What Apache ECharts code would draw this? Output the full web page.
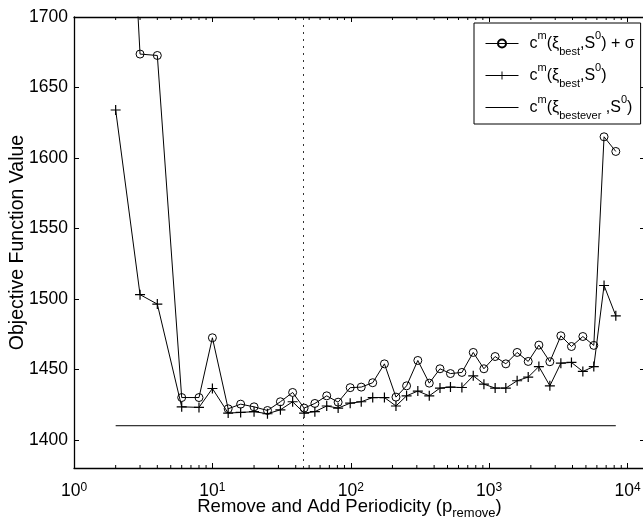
<!DOCTYPE html>
<html>
<head>
<meta charset="utf-8">
<script src="https://cdn.jsdelivr.net/npm/echarts@6/dist/echarts.min.js"></script>
<style>
  html, body { margin: 0; padding: 0; background: #fff; }
  #chart { width: 643px; height: 523px; }
</style>
</head>
<body>
<div id="chart"></div>
<script>
// periodicity values (x)
var periods = [2, 3, 4, 6, 8, 10, 13, 16, 20, 25, 31, 38, 46, 55, 67, 81, 99, 119, 144,
  175, 212, 253, 305, 369, 441, 525, 635, 767, 916, 1104, 1319, 1592,
  1914, 2286, 2744, 3295, 3930, 4750, 5700, 6760, 8220];
// c^m(xi_best, S^0) + sigma  (first point is off the top of the chart)
var bestPlusSigma = [2000, 1673.7, 1672.7, 1430, 1430, 1472.4, 1422, 1425.3, 1423.4, 1420.8, 1427, 1433.6, 1422.5,
  1425.8, 1431.2, 1426.7, 1437, 1437.4, 1440.5,
  1453.9, 1430.3, 1438.3, 1456.3, 1440.2, 1450.4, 1447, 1447.8, 1462, 1450.4, 1459.1, 1453.9, 1462,
  1455.6, 1467.2, 1455.4, 1473.8, 1466.2, 1473.3, 1467, 1615, 1604.6];
// c^m(xi_best, S^0)
var best = [1634, 1503, 1496.3, 1423.4, 1423, 1436.4, 1419, 1419.4, 1420, 1418.5, 1421.3, 1427, 1419,
  1420, 1424, 1422.5, 1426, 1427, 1430,
  1430, 1424, 1431.2, 1434.6, 1431.2, 1436.7, 1437.4, 1437.1, 1445.4, 1439.5, 1436.7, 1436.7, 1441.9,
  1444.5, 1452, 1438.3, 1454.4, 1454.9, 1448.5, 1452, 1509.5, 1488];
// c^m(xi_bestever, S^0)
var bestEver = 1410;
var dottedX = 45;

var yTicks = [1400, 1450, 1500, 1550, 1600, 1650, 1700];
var yMin = 1380, yMax = 1700;
var xMin = 1, xMax = 13360;

// minor ticks of the log axis (2..9 per decade)
var minorTicks = [];
for (var d = 1; d < 10000; d *= 10) {
  for (var k = 2; k <= 9; k++) minorTicks.push([k * d, yMin]);
}

var font = "'Liberation Sans', Arial, Helvetica, sans-serif";

function pairs(ys) {
  return periods.map(function (p, i) { return [p, ys[i]]; });
}

var myChart = echarts.init(document.getElementById("chart"));

var legendRich = {
  sup: { fontSize: 11, fontFamily: font, color: "#000", verticalAlign: "top", lineHeight: 11 },
  sub: { fontSize: 11, fontFamily: font, color: "#000", verticalAlign: "bottom", lineHeight: 11 },
  n: { fontSize: 16, fontFamily: font, color: "#000", lineHeight: 27 }
};

var option = {
  animation: false,
  backgroundColor: "#fff",
  grid: { left: 74, top: 17, right: -2, bottom: 55, containLabel: false, outerBoundsMode: "none" },
  legend: {
    orient: "vertical",
    left: 474,
    top: 23,
    backgroundColor: "#fff",
    borderColor: "#000",
    borderWidth: 1,
    borderRadius: 0,
    padding: [7, 6, 3, 11],
    itemGap: 5,
    itemWidth: 33,
    itemHeight: 10,
    selectedMode: false,
    lineStyle: { width: 1 },
    data: ["withSigma", "best", { name: "bestever", icon: "path://M0,0L40,0L40,1.2L0,1.2Z" }],
    formatter: function (name) {
      if (name === "withSigma") return "{n|c}{sup|m}{n|(ξ}{sub|best}{n|,S}{sup|0}{n|) + σ}";
      if (name === "best") return "{n|c}{sup|m}{n|(ξ}{sub|best}{n|,S}{sup|0}{n|)}";
      return "{n|c}{sup|m}{n|(ξ}{sub|bestever}{n| ,S}{sup|0}{n|)}";
    },
    textStyle: { fontFamily: font, fontSize: 16, color: "#000", padding: [0, 0, 0, 6], rich: legendRich }
  },
  xAxis: [
    {
      type: "log",
      logBase: 10,
      min: xMin,
      max: xMax,
      name: "{n|Remove and Add Periodicity (p}{sub|remove}{n|)}",
      nameLocation: "middle",
      nameGap: 26,
      nameMoveOverlap: false,
      nameTextStyle: {
        fontFamily: font, fontSize: 18.5, color: "#000", padding: [0, 20, 0, 0],
        rich: {
          n: { fontSize: 18.5, fontFamily: font, color: "#000", lineHeight: 26 },
          sub: { fontSize: 13, fontFamily: font, color: "#000", verticalAlign: "bottom", lineHeight: 13 }
        }
      },
      axisLine: { lineStyle: { color: "#000", width: 1.3 } },
      axisTick: { inside: true, length: 5, lineStyle: { color: "#000" } },
      splitLine: { show: false },
      axisLabel: {
        margin: 14,
        fontFamily: font,
        fontSize: 17.5,
        color: "#000",
        showMinLabel: true,
        showMaxLabel: true,
        formatter: function (v) {
          var e = Math.log10(v);
          if (Math.abs(e - Math.round(e)) > 1e-6) return "";
          return "10{sup|" + Math.round(e) + "}";
        },
        rich: { sup: { fontSize: 12, fontFamily: font, color: "#000", verticalAlign: "top", lineHeight: 12, padding: [0, 0, 6, 0] } }
      }
    },
    {
      type: "log",
      logBase: 10,
      min: xMin,
      max: xMax,
      position: "top",
      axisLine: { lineStyle: { color: "#000", width: 1.3 } },
      axisTick: { inside: true, length: 5, lineStyle: { color: "#000" } },
      axisLabel: { show: false },
      splitLine: { show: false }
    }
  ],
  yAxis: [
    {
      type: "value",
      min: yMin,
      max: yMax,
      name: "Objective Function Value",
      nameLocation: "middle",
      nameGap: 46,
      nameMoveOverlap: false,
      nameTextStyle: { fontFamily: font, fontSize: 19.5, color: "#000" },
      axisLine: { show: true, lineStyle: { color: "#000", width: 1.3 } },
      axisTick: { inside: true, length: 5, customValues: yTicks, lineStyle: { color: "#000" } },
      splitLine: { show: false },
      axisLabel: {
        margin: 6,
        fontFamily: font,
        fontSize: 17.5,
        color: "#000",
        customValues: yTicks,
        formatter: function (v) { return String(v); }
      }
    },
    {
      type: "value",
      min: yMin,
      max: yMax,
      position: "right",
      axisLine: { show: true, lineStyle: { color: "#000", width: 1.3 } },
      axisTick: { inside: true, length: 5, customValues: yTicks, lineStyle: { color: "#000" } },
      axisLabel: { show: false },
      splitLine: { show: false }
    }
  ],
  series: [
    {
      name: "withSigma",
      type: "line",
      data: pairs(bestPlusSigma),
      symbol: "circle",
      symbolSize: 8,
      showAllSymbol: true,
      lineStyle: { color: "#000", width: 1 },
      itemStyle: { color: "rgba(0,0,0,0)", borderColor: "#000", borderWidth: 1 },
      markLine: {
        silent: true,
        symbol: "none",
        label: { show: false },
        lineStyle: { color: "#333", type: [2, 5], width: 1 },
        data: [{ xAxis: dottedX }]
      }
    },
    {
      name: "best",
      type: "line",
      data: pairs(best),
      symbol: "path://M0,4.4L10,4.4L10,5.6L0,5.6ZM4.4,0L5.6,0L5.6,10L4.4,10Z",
      symbolSize: 10,
      showAllSymbol: true,
      lineStyle: { color: "#000", width: 1 },
      itemStyle: { color: "#000" }
    },
    {
      name: "bestever",
      type: "line",
      data: [[periods[0], bestEver], [periods[periods.length - 1], bestEver]],
      symbol: "none",
      lineStyle: { color: "#000", width: 1 },
      itemStyle: { color: "#000" }
    },
    {
      type: "custom",
      silent: true,
      data: minorTicks,
      renderItem: function (params, api) {
        var b = api.coord([api.value(0), yMin]);
        var t = api.coord([api.value(0), yMax]);
        return {
          type: "group",
          children: [
            { type: "line", shape: { x1: b[0], y1: b[1], x2: b[0], y2: b[1] - 3 }, style: { stroke: "#000", lineWidth: 1 } },
            { type: "line", shape: { x1: t[0], y1: t[1], x2: t[0], y2: t[1] + 3 }, style: { stroke: "#000", lineWidth: 1 } }
          ]
        };
      }
    }
  ]
};

myChart.setOption(option);
</script>
</body>
</html>
